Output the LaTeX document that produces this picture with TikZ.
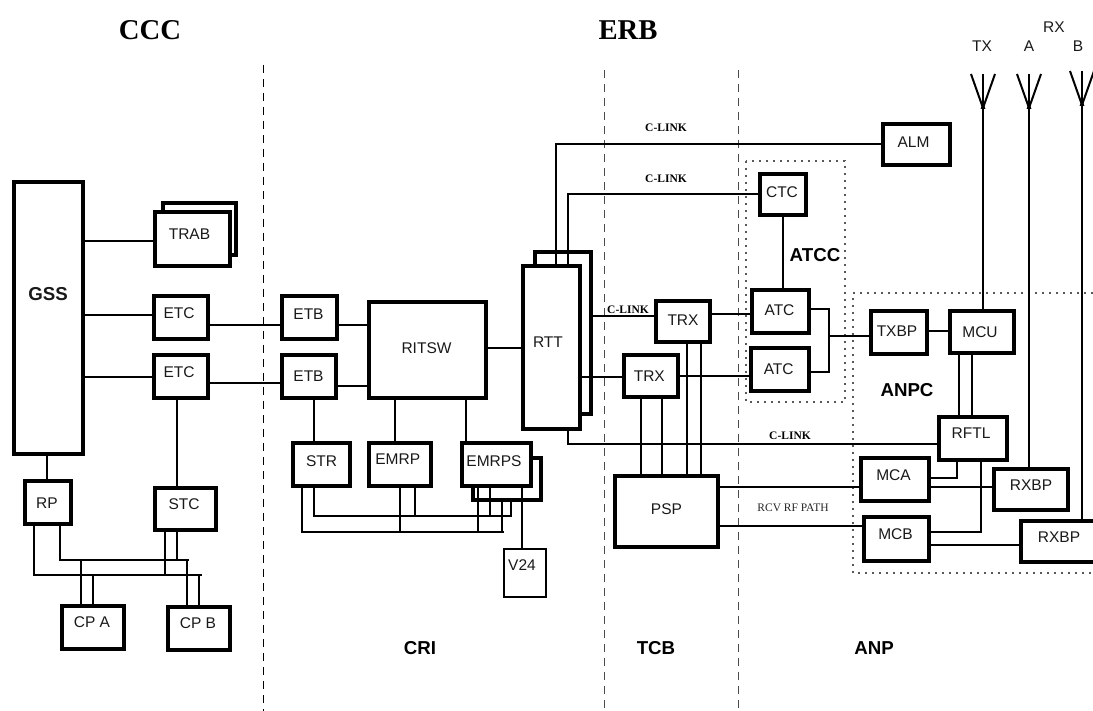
\documentclass[tikz,border=0pt]{standalone}
\usepackage{fontspec}
\setmainfont{Liberation Sans}
\newfontfamily\timesf{Liberation Serif}
\usetikzlibrary{calc}
\tikzset{
  x=1pt,y=-1pt,
  conn/.style={line width=2pt,line cap=butt},
  sep/.style={line width=1pt,dash pattern=on 8pt off 6pt,black!70},
  sepk/.style={line width=1pt,dash pattern=on 8pt off 6pt,black},
  dotbox/.style={line width=1.4pt,dash pattern=on 1.6pt off 5.4pt,black!65},
  lbl/.style={font=\fontsize{15.5}{16}\selectfont,inner sep=0pt,text=black!90},
  bold/.style={font=\fontsize{18.7}{20}\selectfont\bfseries,inner sep=0pt},
  clink/.style={font=\fontsize{11.5}{12}\selectfont\timesf\bfseries,inner sep=0pt},
  head/.style={font=\fontsize{28.7}{30}\selectfont\timesf\bfseries,inner sep=0pt},
}
% box by outer corners: name, x1, y1, x2, y2, line width, text, text dy (up), text dx
\newcommand{\bx}[9]{\node[draw,line width=#6pt,fill=white,inner sep=0pt,outer sep=0pt,
  minimum width={#4-#2-#6},minimum height={#5-#3-#6},
  font=\fontsize{15.5}{16}\selectfont,text=black!90] (#1) at ({(#2+#4)/2},{(#3+#5)/2})
  {\raisebox{\dimexpr#8pt-5.5pt\relax}[0pt][0pt]{\makebox[0pt][c]{\kern#9pt\kern#9pt #7}}};}
\begin{document}
\begin{tikzpicture}
\useasboundingbox (0,0) rectangle (1093,711);
% separators
\coordinate (s1t) at (263.5,65); \coordinate (s1b) at (263.5,711);
\coordinate (s2t) at (604,70); \coordinate (s2b) at (604,711);
\coordinate (s3t) at (738,70); \coordinate (s3b) at (738,711);
\draw[sepk] (s1t)--(s1b); \draw[sep] (s2t)--(s2b); \draw[sep] (s3t)--(s3b);
% dotted groups
\draw[dotbox] (746,161) rectangle (845,402);
\draw[dotbox] (1093,293) -- (853,293) -- (853,573) -- (1093,573);
% back boxes
\bx{trabb}{161}{201}{238}{257}{4}{}{0}{0}
\bx{rttb}{533}{250}{593}{416}{4}{}{0}{0}
\bx{emrpsb}{471}{456}{543}{502}{4}{}{0}{0}
% boxes
\bx{gss}{12}{180}{85}{456}{4}{\bfseries\fontsize{18.7}{19}\selectfont\raisebox{-1pt}{GSS}}{24}{-0.5}
\bx{trab}{153}{210}{232}{268}{4}{TRAB}{5}{-3}
\bx{etca}{152}{294}{210}{341}{4}{ETC}{4.5}{-2}
\bx{etcb}{152}{353}{210}{400}{4}{ETC}{4.5}{-2}
\bx{rp}{23}{479}{73}{526}{4}{RP}{0}{-1}
\bx{stc}{153}{486}{218}{532}{4}{STC}{5}{-1.5}
\bx{cpa}{60}{604}{126}{651}{4}{CP A}{6}{-1}
\bx{cpb}{166}{605}{232}{652}{4}{CP B}{6}{-1}
\bx{etba}{280}{294}{339}{341}{4}{ETB}{3.5}{-1}
\bx{etbb}{280}{353}{338}{400}{4}{ETB}{0}{-0.5}
\bx{ritsw}{367}{300}{488}{400}{4}{RITSW}{2.3}{-1}
\bx{rtt}{521}{264}{582}{431}{4}{RTT}{5}{-3.5}
\bx{strb}{291}{441}{352}{488}{4}{STR}{3.5}{0}
\bx{emrp}{367}{441}{433}{488}{4}{EMRP}{6}{-2.3}
\bx{emrps}{460}{441}{533}{488}{4}{EMRPS}{3.5}{-2.5}
\bx{vtf}{503}{548}{547}{598}{1.6}{V24}{8}{-3}
\bx{trxa}{654}{299}{712}{344}{4}{TRX}{1.5}{0}
\bx{trxb}{622}{353}{680}{399}{4}{TRX}{0}{-1.7}
\bx{psp}{613}{474}{720}{549}{4}{PSP}{3}{0}
\bx{ctc}{758}{172}{808}{217}{4}{CTC}{2}{-1}
\bx{atca}{750}{288}{811}{335}{4}{ATC}{1}{-1}
\bx{atcb}{749}{346}{811}{393}{4}{ATC}{0}{-1.3}
\bx{alm}{881}{122}{952}{167}{4}{ALM}{2}{-3}
\bx{txbp}{869}{309}{929}{356}{4}{TXBP}{1}{-2}
\bx{mcu}{948}{309}{1016}{355}{4}{MCU}{0}{-2}
\bx{rftl}{937}{415}{1009}{462}{4}{RFTL}{5}{-2}
\bx{mca}{859}{456}{931}{503}{4}{MCA}{5}{-1.5}
\bx{mcb}{862}{515}{931}{563}{4}{MCB}{5.5}{-1}
\bx{rxa}{992}{467}{1070}{512}{4}{RXBP}{5}{0}
\bx{rxb}{1019}{519}{1101}{564}{4}{RXBP}{5}{-1}
% antennas
\coordinate (atx) at (983,108); \coordinate (aa) at (1029,108); \coordinate (ab) at (1082,105);
\foreach \a in {atx,aa,ab}{
  \draw[conn] (\a) -- ($(\a)+(-12,-34)$);
  \draw[conn] (\a) -- ($(\a)+(12,-34)$);
  \draw[conn] (\a) -- ($(\a)+(0,-34)$);
  \fill ($(\a)+(-2.5,1)$) -- ($(\a)+(2.5,1)$) -- ($(\a)+(0,-5)$) -- cycle;
}
% connectors
\begin{scope}[conn]
\draw (gss.east |- 0,241) -- (trab.west |- 0,241);
\draw (gss.east |- 0,315) -- (etca.west |- 0,315);
\draw (gss.east |- 0,377) -- (etcb.west |- 0,377);
\draw (47,456) -- (rp.north -| 47,0);
\draw (etca.east |- 0,325) -- (etba.west |- 0,325);
\draw (etcb.east |- 0,383) -- (etbb.west |- 0,383);
\draw (177,400) -- (stc.north -| 177,0);
% control bus left
\coordinate (b1l) at (60,560); \coordinate (b1r) at (189,560);
\coordinate (b2l) at (34,575); \coordinate (b2r) at (202,575);
\draw (rp.south -| b1l) -- ($(b1l)+(0,1)$);
\draw (b1l) -- (b1r);
\draw (rp.south -| b2l) -- ($(b2l)+(0,1)$);
\draw (b2l) -- (b2r);
\draw (stc.south -| 165,0) -- (165,576);
\draw (stc.south -| 177,0) -- (177,561);
\draw (81,560) -- (cpa.north -| 81,0);
\draw (93,575) -- (cpa.north -| 93,0);
\draw (187,560) -- (cpb.north -| 187,0);
\draw (199,575) -- (cpb.north -| 199,0);
% CRI
\draw (etba.east |- 0,325) -- (ritsw.west |- 0,325);
\draw (etbb.east |- 0,386) -- (ritsw.west |- 0,386);
\draw (ritsw.east |- 0,348) -- (rtt.west |- 0,348);
\draw (314,400) -- (strb.north -| 314,0);
\draw (395,400) -- (emrp.north -| 395,0);
\draw (466,400) -- (emrps.north -| 466,0);
\draw (522,488) -- (vtf.north -| 522,0);
\coordinate (c1l) at (314,516); \coordinate (c1r) at (512,516);
\coordinate (c2l) at (302,532); \coordinate (c2r) at (504,532);
\draw (c1l)--(c1r); \draw (c2l)--(c2r);
\draw (302,488)--(302,533); \draw (314,488)--(314,517);
\draw (400,488)--(400,533); \draw (415,488)--(415,517);
\draw (478,488)--(478,533); \draw (490,488)--(490,517);
\draw (502,502)--(502,533); \draw (511,502)--(511,517);
% RTT links
\draw (556,264) -- (556,144) -- (alm.west |- 0,144);
\draw (568,264) -- (568,194) -- (ctc.west |- 0,194);
\draw (593,316) -- (trxa.west |- 0,316);
\draw (582,377) -- (trxb.west |- 0,377);
\draw (568,431) -- (568,443.5) -- (rftl.west |- 0,443.5);
\draw (trxa.east |- 0,314) -- (atca.west |- 0,314);
\draw (trxb.east |- 0,376) -- (atcb.west |- 0,376);
\draw (641,399) -- (psp.north -| 641,0);
\draw (662,399) -- (psp.north -| 662,0);
\draw (687,344) -- (psp.north -| 687,0);
\draw (701,344) -- (psp.north -| 701,0);
\draw (psp.east |- 0,487) -- (mca.west |- 0,487);
\draw (psp.east |- 0,526) -- (mcb.west |- 0,526);
\draw (783,217) -- (atca.north -| 783,0);
\draw (atca.east |- 0,309) -- (829,309) -- (829,372) -- (atcb.east |- 0,372);
\draw (829,336) -- (txbp.west |- 0,336);
\draw (txbp.east |- 0,331) -- (mcu.west |- 0,331);
\draw (959,355) -- (rftl.north -| 959,0);
\draw (972,355) -- (rftl.north -| 972,0);
\draw (mca.east |- 0,478) -- (957,478) -- (957,462);
\draw (mca.east |- 0,487) -- (rxa.west |- 0,487);
\draw (mcb.east |- 0,532) -- (981,532) -- (981,462);
\draw (mcb.east |- 0,545) -- (rxb.west |- 0,545);
\draw (atx) -- (mcu.north -| atx);
\draw (aa) -- (rxa.north -| aa);
\draw (ab) -- (rxb.north -| ab);
\end{scope}
% texts
\node[head] (ccc) at (150,30) {CCC};
\node[head] (erb) at (628,30) {ERB};
\node[bold] (atcc) at (815,255) {ATCC};
\node[bold] (anpc) at (907,390) {ANPC};
\node[bold] (cri) at (420,648) {CRI};
\node[bold] (tcb) at (656,648) {TCB};
\node[bold] (anp) at (874,648) {ANP};
\node[clink] (cl1) at (666,128) {C-LINK};
\node[clink] (cl2) at (666,179) {C-LINK};
\node[clink] (cl3) at (628,309.5) {C-LINK};
\node[clink] (cl4) at (790,436) {C-LINK};
\node[font=\fontsize{11.5}{12}\selectfont\timesf,inner sep=0pt,text=black!85] (rcv) at (793,508) {RCV RF PATH};
\node[lbl] (tx) at (982,46) {TX};
\node[lbl] (a) at (1029,46) {A};
\node[lbl] (b) at (1078,46) {B};
\node[lbl] (rx) at (1054,27) {RX};
\end{tikzpicture}
\end{document}
